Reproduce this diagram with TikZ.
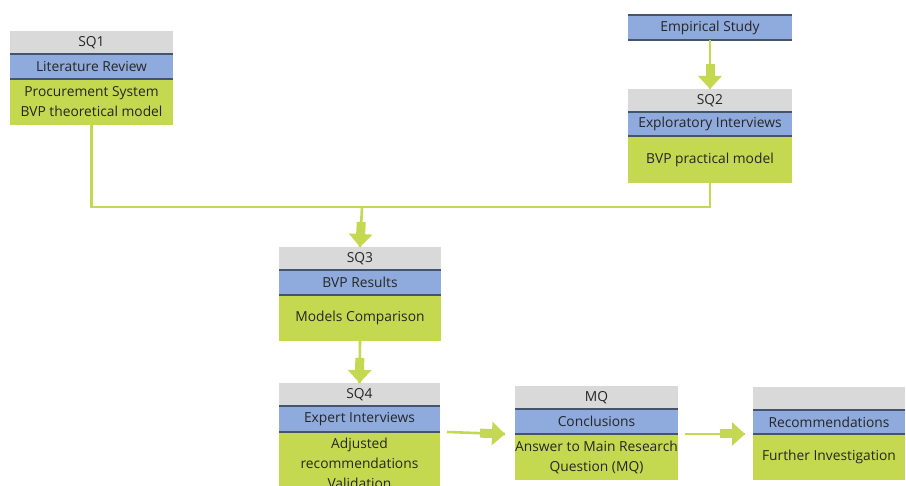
\documentclass[tikz,border=0pt]{standalone}
\usepackage{fontspec}
\setmainfont{Open Sans}
\usetikzlibrary{arrows.meta,calc}
\definecolor{boxgray}{HTML}{D9D9D9}
\definecolor{boxblue}{HTML}{8FAADC}
\definecolor{boxgreen}{HTML}{C5D950}
\definecolor{rulecol}{HTML}{44546A}
\definecolor{txtcol}{HTML}{262626}
% thin connector, then a short block arrow at its end
\newcommand{\flowarrow}[2]{%
  \draw[flow] (#1) -- (#2);
  \draw[bigarrow] ($(#2)!25pt!(#1)$) -- (#2);}

\begin{document}
\begin{tikzpicture}[x=1pt,y=-1pt,
  cell/.style={anchor=north west,inner sep=0pt,outer sep=0pt,text=txtcol,align=center,
    font=\fontsize{13.8}{20}\selectfont},
  hdr/.style={cell,fill=boxgray,minimum height=23pt},
  ttl/.style={cell,fill=boxblue,minimum height=25pt},
  body/.style={cell,fill=boxgreen},
  rule/.style={line width=1.2pt,draw=rulecol},
  flow/.style={line width=2.6pt,draw=boxgreen},
  bigarrow/.style={line width=9pt,draw=boxgreen,-{Triangle[width=23pt,length=13pt]}}]
  \useasboundingbox (0,0) rectangle (906,486);
  \clip (0,0) rectangle (906,486);

  % SQ1
  \node[hdr,minimum width=163pt] (sq1h) at (10,31) {SQ1};
  \node[ttl,minimum width=163pt] (sq1t) at (sq1h.south west) {Literature Review};
  \node[body,minimum width=163pt,minimum height=46pt] (sq1b) at (sq1t.south west) {Procurement System\\BVP theoretical model};

  % empirical study + SQ2
  \node[ttl,minimum width=164pt] (es) at (628,15) {Empirical Study};
  \node[hdr,minimum width=164pt] (sq2h) at (628,89) {SQ2};
  \node[ttl,minimum width=164pt,minimum height=24pt] (sq2t) at (sq2h.south west) {Exploratory Interviews};
  \node[body,minimum width=164pt,minimum height=47pt] (sq2b) at (sq2t.south west) {BVP practical model};

  % SQ3
  \node[hdr,minimum width=162pt] (sq3h) at (279,247) {SQ3};
  \node[ttl,minimum width=162pt] (sq3t) at (sq3h.south west) {BVP Results};
  \node[body,minimum width=162pt,minimum height=46pt] (sq3b) at (sq3t.south west) {Models Comparison};

  % SQ4
  \node[hdr,minimum width=161pt] (sq4h) at (279,383) {SQ4};
  \node[ttl,minimum width=161pt,minimum height=26pt] (sq4t) at (sq4h.south west) {Expert Interviews};
  \node[body,minimum width=161pt,minimum height=62pt] (sq4b) at (sq4t.south west) {Adjusted\\recommendations\\Validation};

  % MQ
  \node[hdr,minimum width=163pt] (mqh) at (515,386) {MQ};
  \node[ttl,minimum width=163pt] (mqt) at (mqh.south west) {Conclusions};
  \node[body,minimum width=163pt,minimum height=46pt] (mqb) at (mqt.south west) {Answer to Main Research\\Question (MQ)};

  % recommendations
  \node[hdr,minimum width=152pt] (rech) at (753,387) {};
  \node[ttl,minimum width=152pt,minimum height=24pt] (rect) at (rech.south west) {Recommendations};
  \node[body,minimum width=152pt,minimum height=46pt] (recb) at (rect.south west) {Further Investigation};

  \foreach \n in {es,sq1t,sq2t,sq3t,sq4t,mqt,rect}
    \draw[rule] (\n.north west) -- (\n.north east) (\n.south west) -- (\n.south east);

  % connectors
  \coordinate (junc) at (362,207);
  \draw[flow] (sq1b.south) |- (junc -| sq2b.south) -- (sq2b.south);
  \flowarrow{es.south}{sq2h.north}
  \flowarrow{junc}{sq3h.north}
  \flowarrow{sq3b.south}{sq4h.north}
  \coordinate (a1) at ($(sq4t.south east)+(7,0)$);
  \coordinate (b1) at ($(mqt.south west)+(-10,0)$);
  \flowarrow{a1}{b1}
  \coordinate (a2) at ($(mqt.south east)+(7,0)$);
  \coordinate (b2) at ($(rect.south west)+(-8,0)$);
  \flowarrow{a2}{b2}
\end{tikzpicture}
\end{document}
